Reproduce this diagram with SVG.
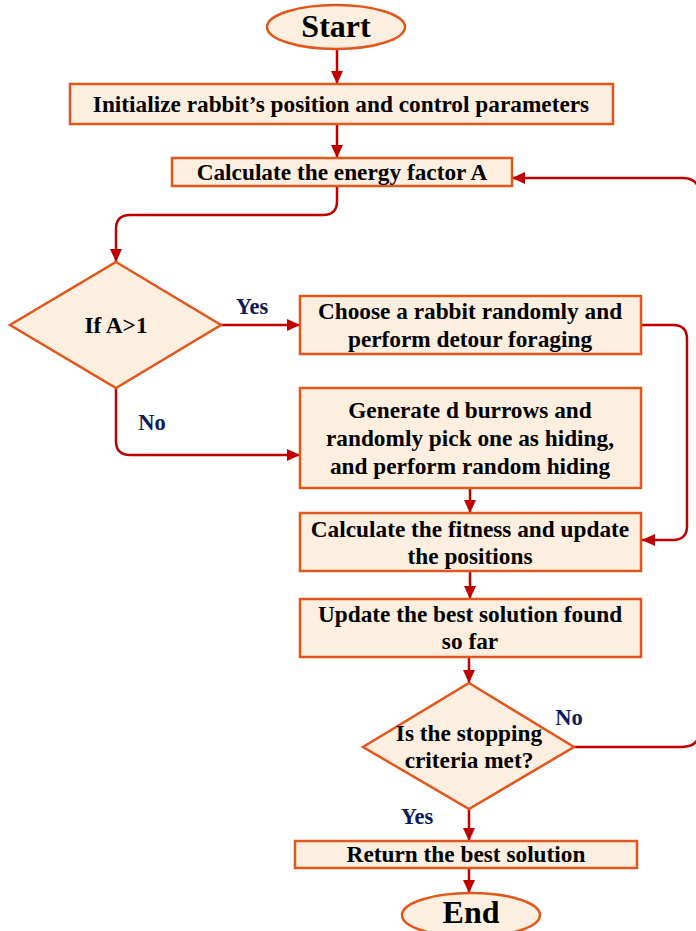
<svg xmlns="http://www.w3.org/2000/svg" width="696" height="931" viewBox="0 0 696 931">
<style>
.box{fill:#fdefdf;stroke:#e2561b;stroke-width:2.5}
.t{font-family:"Liberation Serif","Times New Roman",serif;font-weight:bold;font-size:23.3px;fill:#000;text-anchor:middle}
.big{font-size:32px}
.lbl{font-family:"Liberation Serif","Times New Roman",serif;font-weight:bold;font-size:22.5px;fill:#0d1b5c;text-anchor:middle}
.c{fill:none;stroke:#c00000;stroke-width:2.5}
</style>
<defs>
<marker id="ah" markerUnits="userSpaceOnUse" markerWidth="14" markerHeight="12" refX="13" refY="6" orient="auto">
<path d="M0,0 L13,6 L0,12 z" fill="#c00000"/>
</marker>
</defs>
<rect width="696" height="931" fill="#fff"/>
<g id="connectors">
<path class="c" d="M337,49 V84" marker-end="url(#ah)"/>
<path class="c" d="M337,124 V158" marker-end="url(#ah)"/>
<path class="c" d="M337,186 V201 Q337,215 323,215 H130 Q116,215 116,229 V262" marker-end="url(#ah)"/>
<path class="c" d="M220,325 H300" marker-end="url(#ah)"/>
<path class="c" d="M116,388 V441 Q116,455 130,455 H300" marker-end="url(#ah)"/>
<path class="c" d="M641,325 H673 Q687,325 687,339 V526 Q687,540 673,540 H642" marker-end="url(#ah)"/>
<path class="c" d="M470,488 V513" marker-end="url(#ah)"/>
<path class="c" d="M470,571 V599" marker-end="url(#ah)"/>
<path class="c" d="M469,657 V683" marker-end="url(#ah)"/>
<path class="c" d="M573,747 H682 Q700,747 700,729 V196 Q700,178 682,178 H512" marker-end="url(#ah)"/>
<path class="c" d="M469,809 V841" marker-end="url(#ah)"/>
<path class="c" d="M469,868 V893" marker-end="url(#ah)"/>
<text class="lbl" x="252" y="314">Yes</text>
<text class="lbl" x="152" y="430">No</text>
<text class="lbl" x="569" y="725">No</text>
<text class="lbl" x="417" y="824">Yes</text>
</g>
<g id="start">
<ellipse class="box" cx="336" cy="27" rx="69" ry="22"/>
<text class="t big" x="336" y="37">Start</text>
</g>
<g id="init">
<rect class="box" x="70" y="84" width="543" height="40"/>
<text class="t" x="341" y="112">Initialize rabbit’s position and control parameters</text>
</g>
<g id="energy">
<rect class="box" x="172" y="158" width="340" height="28"/>
<text class="t" x="342" y="180">Calculate the energy factor A</text>
</g>
<g id="decision1">
<polygon class="box" points="116,262 221,325 116,388 10,325"/>
<text class="t" x="116" y="333">If A&gt;1</text>
</g>
<g id="choose">
<rect class="box" x="300" y="296" width="341" height="58"/>
<text class="t" x="470" y="319">Choose a rabbit randomly and</text>
<text class="t" x="470" y="347">perform detour foraging</text>
</g>
<g id="generate">
<rect class="box" x="300" y="388" width="341" height="100"/>
<text class="t" x="470" y="418">Generate d burrows and</text>
<text class="t" x="470" y="446">randomly pick one as hiding,</text>
<text class="t" x="470" y="474">and perform random hiding</text>
</g>
<g id="fitness">
<rect class="box" x="300" y="513" width="341" height="58"/>
<text class="t" x="470" y="537">Calculate the fitness and update</text>
<text class="t" x="470" y="564">the positions</text>
</g>
<g id="update">
<rect class="box" x="300" y="599" width="341" height="58"/>
<text class="t" x="470" y="622">Update the best solution found</text>
<text class="t" x="470" y="649">so far</text>
</g>
<g id="decision2">
<polygon class="box" points="469,683 574,747 469,809 363,747"/>
<text class="t" x="469" y="741">Is the stopping</text>
<text class="t" x="469" y="768">criteria met?</text>
</g>
<g id="return">
<rect class="box" x="295" y="841" width="342" height="27"/>
<text class="t" x="466" y="862">Return the best solution</text>
</g>
<g id="end">
<ellipse class="box" cx="471" cy="915" rx="69" ry="22"/>
<text class="t big" x="471" y="923">End</text>
</g>
</svg>
